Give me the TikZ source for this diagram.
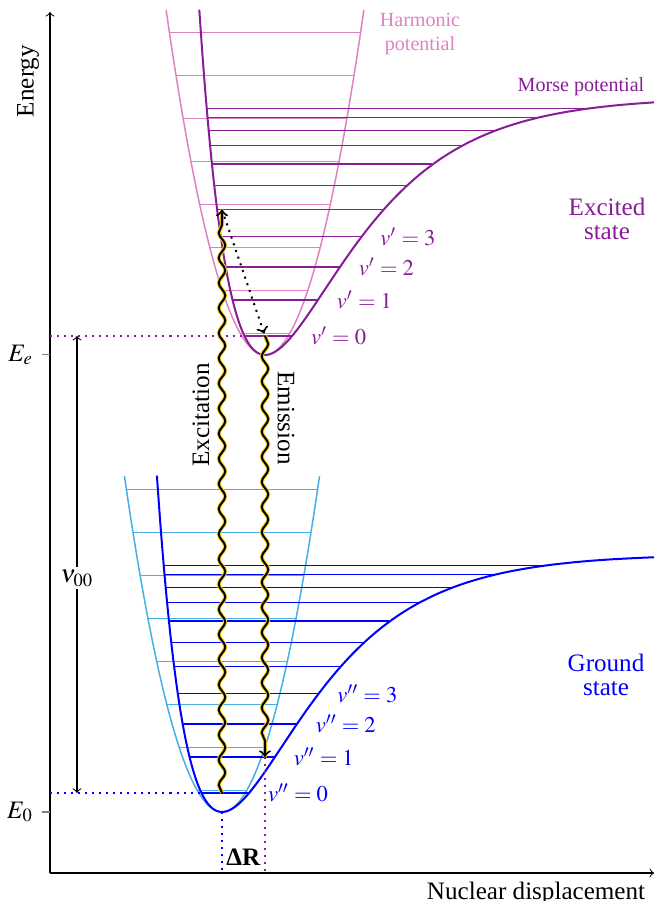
\documentclass[tikz,border=0pt]{standalone}
\usepackage{mathptmx}
\usepackage[no-math]{fontspec}
\setmainfont{Liberation Serif}
\usetikzlibrary{decorations.pathmorphing}
\definecolor{gndcol}{RGB}{0,0,255}
\definecolor{gndharm}{RGB}{70,175,230}
\definecolor{exccol}{RGB}{135,30,150}
\definecolor{excharm}{RGB}{222,130,195}
\definecolor{waveyel}{RGB}{250,210,30}
\begin{document}
\begin{tikzpicture}[x=0.14cm, y=0.14cm, >=to,
declare function={morse(\x)=25.8*(1-exp(-0.117*\x))*(1-exp(-0.117*\x));
  harm(\x)=0.353*\x*\x;
  lev(\x)=3.89*(\x+0.5)-0.1466*(\x+0.5)*(\x+0.5);
  hlev(\x)=4.3*(\x+0.5);},
pot/.style={line width=0.8pt, samples=150, smooth},
harmpot/.style={line width=0.6pt, samples=80, smooth},
level/.style={line width=0.5pt},
lvlabel/.style={font=\small, anchor=west, xshift=4pt},
snakeline/.style={decorate,
  decoration={snake, amplitude=1.3pt, segment length=10pt, post length=2pt}},
wavebg/.style={snakeline, draw=waveyel, line width=1.6pt, xshift=0.4pt},
wave/.style={snakeline, ->, line width=0.8pt},
guide/.style={thick, dotted}]
\useasboundingbox (-5,-2.8) rectangle (60.4,87.3);
\coordinate (ax) at (0,0);
\coordinate (gmin) at (17.2,6.1);
\coordinate (emin) at (21.5,51.8);
\draw[->] (ax) -- (0,86.1);
\draw[->] (ax) -- (60.4,0) node[anchor=north east] (xlab) {Nuclear displacement};
\node[rotate=90] (ylab) at (-2.2,79.2) {Energy};
\draw[gray] (ax |- gmin) -- ++(-0.8,0) node[left, black] (E0lab) {$E_0$};
\draw[gray] (ax |- emin) -- ++(-0.8,0) node[left, black] (Eelab) {$E_e$};
\foreach \n in {0,...,7}{
  \pgfmathsetmacro\E{hlev(\n)}
  \pgfmathsetmacro\rh{sqrt(\E/0.353)}
  \draw[level,gndharm] (17.2-\rh,6.1+\E) -- (17.2+\rh,6.1+\E);
  \draw[level,excharm] (21.5-\rh,51.8+\E) -- (21.5+\rh,51.8+\E);
}
\draw[harmpot,gndharm,domain=-9.756:9.756] plot ({17.2+\x},{6.1+harm(\x)});
\draw[harmpot,excharm,domain=-9.886:9.886] plot ({21.5+\x},{51.8+harm(\x)});
\foreach \n in {0,...,10}{
  \pgfmathsetmacro\E{lev(\n)}
  \pgfmathsetmacro\rl{-ln(1+sqrt(\E/25.8))/0.117}
  \pgfmathsetmacro\rr{-ln(1-sqrt(\E/25.8))/0.117}
  \draw[level,gndcol] (17.2+\rl,6.1+\E) -- (17.2+\rr,6.1+\E);
  \draw[level,exccol] (21.5+\rl,51.8+\E) -- (21.5+\rr,51.8+\E);
  \ifnum\n<4
    \node[lvlabel,gndcol] (gl\n) at (17.2+\rr,6.1+\E) {$v''=\n$};
    \node[lvlabel,exccol] (el\n) at (21.5+\rr,51.8+\E) {$v'=\n$};
  \fi
}
\draw[pot,gndcol,domain=10.69:60.4] plot (\x,{6.1+morse(\x-17.2)});
\draw[pot,exccol,domain=14.93:60.4] plot (\x,{51.8+morse(\x-21.5)});
\pgfmathsetmacro\rzero{-ln(1+sqrt(lev(0)/25.8))/0.117}
\coordinate (g0) at (17.2,{6.1+lev(0)});
\coordinate (g1) at (21.5,{6.1+lev(1)});
\coordinate (e0) at (21.5,{51.8+lev(0)});
\coordinate (e4) at (17.2,{51.8+lev(4)});
\coordinate (g0l) at ({17.2+\rzero},{6.1+lev(0)});
\coordinate (e0l) at ({21.5+\rzero},{51.8+lev(0)});
\coordinate (nu0) at (2.7,{6.1+lev(0)});
\coordinate (nu1) at (2.7,{51.8+lev(0)});
\draw[guide,gndcol] (ax |- g0l) -- (g0l);
\draw[guide,exccol] (ax |- e0l) -- (e0l);
\draw[guide,gndcol] (gmin) -- (gmin |- ax);
\draw[guide,exccol] (g1) -- (g1 |- ax);
\draw[<->] (nu0) -- node[pos=0.47, fill=white, inner sep=1pt] (nulab) {$\nu_{00}$} (nu1);
\node (dR) at (19.35,1.6) {\textbf{ΔR}};
\draw[wavebg] (g0) -- (e4);
\draw[wave] (g0) -- (e4);
\draw[wavebg] (e0) -- (g1);
\draw[wave] (e0) -- (g1);
\draw[->, guide, shorten <=3pt, shorten >=1pt] (e4) -- (e0);
\node[rotate=90] (exclab) at (15.1,45.8) {Excitation};
\node[rotate=-90] (emilab) at (23.6,45.5) {Emission};
\node[font=\footnotesize, align=center, excharm] (harmlab) at (37.0,83.9) {Harmonic\\potential};
\node[font=\footnotesize, exccol] (morselab) at (53.1,78.6) {Morse potential};
\node[align=center, exccol] (exclab2) at (55.7,65.4) {Excited\\[-2.4pt]state};
\node[align=center, gndcol] (gndlab) at (55.6,19.8) {Ground\\[-2.4pt]state};
\end{tikzpicture}
\end{document}
